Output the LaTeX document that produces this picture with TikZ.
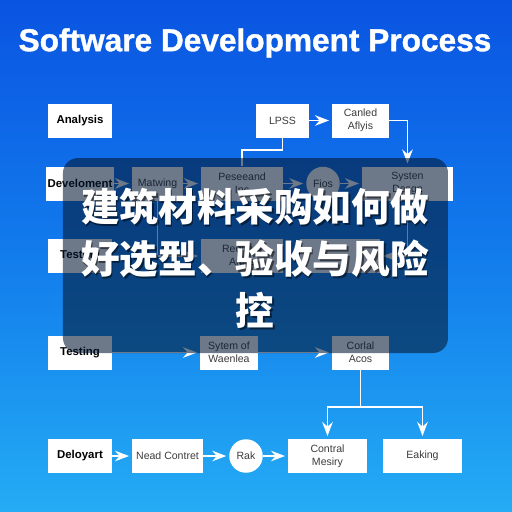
\documentclass[tikz,border=0pt]{standalone}
\usepackage{fontspec}
\setmainfont{Liberation Sans}
\newfontfamily\cjk{Noto Sans CJK SC}
\newfontfamily\titlefont{Liberation Sans}[BoldFeatures={FakeBold=1.2}]
\usetikzlibrary{arrows.meta}
\usetikzlibrary{calc}
\usetikzlibrary{positioning}
\definecolor{bgtop}{RGB}{10,84,226}
\definecolor{bgmid}{RGB}{18,124,236}
\definecolor{bgbot}{RGB}{36,172,244}
\definecolor{veil}{RGB}{4,24,50}
\definecolor{labelgray}{RGB}{60,60,60}
\tikzset{box/.style={fill=white, minimum height=0.68cm, minimum width={#1*0.02cm}, align=center,
    inner sep=1pt, font=\fontsize{6}{7.4}\selectfont, text=labelgray}}

\begin{document}
\begin{tikzpicture}[x=0.02cm, y=-0.02cm, >=Stealth,
      head/.style={box=64, font=\fontsize{6.5}{7.4}\selectfont\bfseries, text=black},
      disc/.style={circle, fill=white, minimum size=0.67cm, inner sep=0pt,
        font=\fontsize{6}{7.4}\selectfont, text=labelgray},
      link/.style={->, white, line width=1.1pt, shorten >=1.5pt},
      wire/.style={white, line width=1.1pt},
      caption/.style={align=center, text=white, font=\cjk\bfseries\fontsize{22}{29.5}\selectfont}]
      % Background
      \useasboundingbox (0,0) rectangle (512,512);
      \shade[top color=bgtop, bottom color=bgbot, middle color=bgmid] (0,0) rectangle (512,512);
      % Title
      \node[text=white, font=\titlefont\bfseries\fontsize{18}{20}\selectfont] (title) at (255,43) {Software Development Process};
      % Row 1
      \node[head] (ana) at (80,120.5) {Analysis};
      \node[box=53] (lpss) at (282.5,120.5) {LPSS};
      \node[box=57] (can) at (360.5,120.5) {Canled\\Aflyis};
      % Row 2
      \node[head] (dev) at (80,183.5) {Develoment};
      \node[box=51] (mat) at (157.5,183.5) {Matwing};
      \node[box=82] (pes) at (242,183.5) {Peseeand\\Inc};
      \node[disc] (fios) at (323,183.5) {Fios};
      \node[box=91] (sys) at (407.5,183.5) {Systen\\Desgn};
      % Row 3
      \node[head] (tst) at (80,256) {Testing};
      \node[box=82] (req) at (242,256) {Reqirent\\Anlys};
      \node[box=80] (rev) at (340,256) {};
      % Row 4
      \node[head] (test) at (80,352.5) {Testing};
      \node[box=58] (sym) at (229,352.5) {Sytem of\\Waenlea};
      \node[box=57] (cor) at (360.5,352.5) {Corlal\\Acos};
      % Row 5
      \node[head] (dep) at (80,456) {Deloyart};
      \node[box=71] (nead) at (167.5,456) {Nead Contret};
      \node[disc] (rak) at (246,456) {Rak};
      \node[box=79] (cont) at (327.5,456) {Contral\\Mesiry};
      \node[box=79] (eak) at (422.5,456) {Eaking};
      % Connectors
      \draw[link] (lpss) -- (can);
      \draw[link] (can.east) -| (sys.north);
      \draw[wire] (lpss.south) -- ++(0,12) -| (pes.north);
      \draw[link] (dev) -- (mat);
      \draw[link] (mat) -- (pes);
      \draw[link] (pes) -- (fios);
      \draw[link] (fios) -- (sys);
      \draw[link] (mat.south) |- (req.west);
      \draw[link] (sys.south) |- (rev.east);
      \draw[link] (test) -- (sym);
      \draw[link] (sym) -- (cor);
      \coordinate (split) at ($(cor.south)+(0,37)$);
      \draw[wire] (cor.south) -- (split);
      \draw[link] (split) -| (cont.north);
      \draw[link] (split) -| (eak.north);
      \draw[link] (dep) -- (nead);
      \draw[link] (nead) -- (rak);
      \draw[link] (rak) -- (cont);
      % Overlay with caption
      \fill[veil, opacity=0.58, rounded corners=8.5pt] (63,158) rectangle (448,353);
      \node[caption, text=black, opacity=0.5] at (256.5,260) {建筑材料采购如何做\\好选型、验收与风险\\控};
      \node[caption] (cap) at (255,258.5) {建筑材料采购如何做\\好选型、验收与风险\\控};
    \end{tikzpicture}
\end{document}
